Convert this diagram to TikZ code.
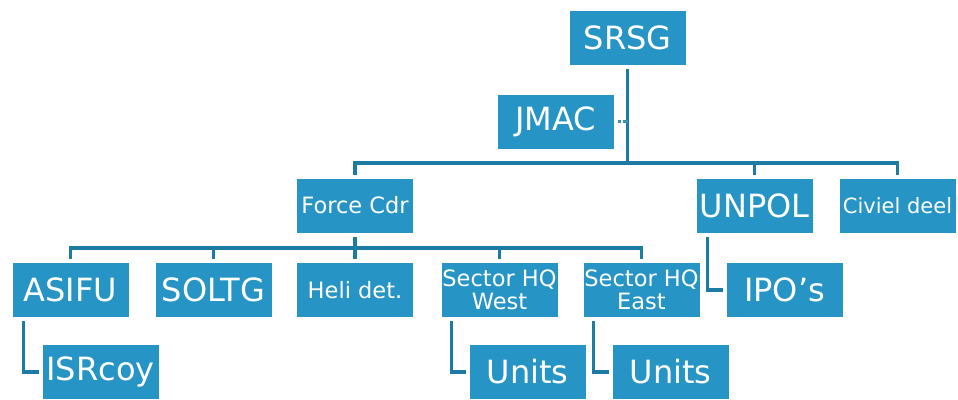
\documentclass[tikz,border=0pt]{standalone}
\usepackage{fontspec}
\setmainfont{DejaVu Sans}
\usepackage{xcolor}
\usepackage{tikz}
\usetikzlibrary{calc}
\definecolor{boxblue}{RGB}{38,149,197}
\definecolor{lineblue}{RGB}{29,123,163}

\begin{document}
\begin{tikzpicture}[
    x=1pt, y=-1pt,
    unit/.style={rectangle, fill=boxblue, text=white, minimum width=116pt, minimum height=54pt,
        inner sep=0pt, outer sep=4pt, align=center},
    big/.style={unit, font=\fontsize{32}{35}\selectfont},
    small/.style={unit, font=\fontsize{22.5}{23}\selectfont},
    conn/.style={draw=lineblue, line width=3.8pt},
    elbow/.style={conn, line cap=butt}
]
    \useasboundingbox (0,0) rectangle (958,399);
    \coordinate (rowa) at (0,163);
    \coordinate (rowb) at (0,248);

    \node[big] (srsg) at (627.5,38) {SRSG};
    \node[big] (jmac) at (555.5,121.5) {JMAC};
    \node[small] (force) at (355,205.5) {Force Cdr};
    \node[big] (unpol) at (754.5,205.5) {UNPOL};
    \node[small, font=\fontsize{21}{23}\selectfont] (civiel) at (897.5,205.5) {Civiel deel};
    \node[big] (asifu) at (70.5,290) {ASIFU};
    \node[big] (soltg) at (213.5,290) {SOLTG};
    \node[small] (heli) at (355,290) {Heli det.};
    \node[small] (west) at (499.5,290) {Sector HQ\\West};
    \node[small] (east) at (641.5,290) {Sector HQ\\East};
    \node[big] (ipos) at (784.5,290) {IPO’s};
    \node[big] (isrcoy) at (100.5,372) {ISRcoy};
    \node[big] (unitsw) at (527.5,372) {Units};
    \node[big] (unitse) at (670.5,372) {Units};

    % top level
    \draw[conn] (srsg.south) -- (srsg.south |- rowa);
    \draw[draw=lineblue!85, line width=3pt, dash pattern=on 3pt off 2pt on 9pt] (jmac.east) -- (jmac.east -| srsg.south);
    \draw[conn] (force.north) |- (rowa -| civiel.north) -- (civiel.north);
    \draw[conn] (unpol.north) -- (unpol.north |- rowa);

    % force level
    \draw[conn] (force.south) -- (force.south |- rowb);
    \draw[conn] (asifu.north) |- (rowb -| east.north) -- (east.north);
    \foreach \n in {soltg, heli, west}
        \draw[conn] (\n.north) -- (\n.north |- rowb);

    % children
    \draw[elbow] ($(asifu.south west)+(15,0)$) |- (isrcoy.west);
    \draw[elbow] ($(west.south west)+(14,0)$) |- (unitsw.west);
    \draw[elbow] ($(east.south west)+(14,0)$) |- (unitse.west);
    \draw[elbow] ($(unpol.south west)+(15,0)$) |- (ipos.west);
\end{tikzpicture}
\end{document}
